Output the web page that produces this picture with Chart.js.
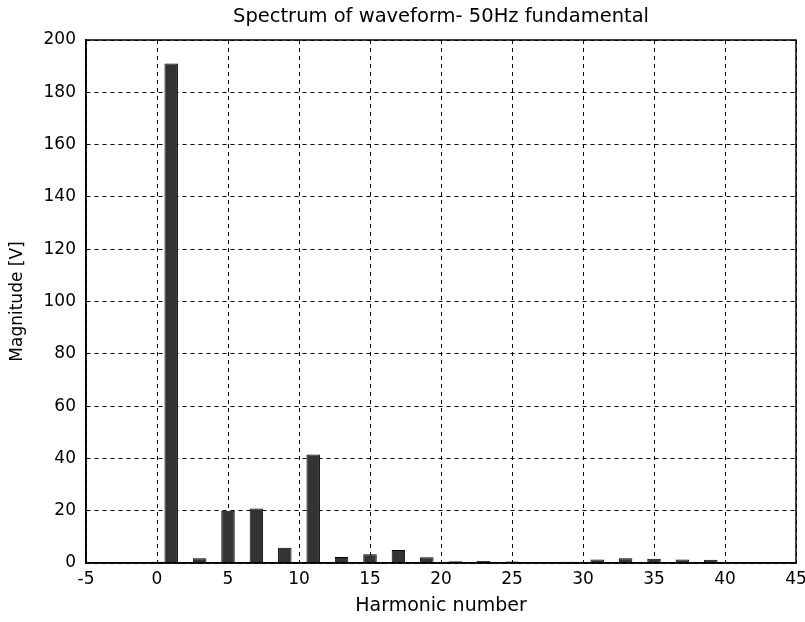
<!DOCTYPE html>
<html>
<head>
<meta charset="utf-8">
<script src="https://cdn.jsdelivr.net/npm/chart.js@4"></script>
<style>
  html, body { margin: 0; padding: 0; background: #fff; }
  #wrap { width: 805px; height: 622px; position: relative; }
</style>
</head>
<body>
<div id="wrap"><canvas id="c"></canvas></div>
<script>
const chartTitle = 'Spectrum of waveform- 50Hz fundamental';
const xTitle = 'Harmonic number';
const yTitle = 'Magnitude [V]';
const harmonics = [0,1,2,3,4,5,6,7,8,9,10,11,12,13,14,15,16,17,18,19,20,21,22,23,24,25,26,27,28,29,30,31,32,33,34,35,36,37,38,39,40];
const magnitudes = [0.5,191,0,1.8,0,20,0,20.8,0,5.8,0,41.5,0,2.3,0,3.3,0,5,0,2.2,0,0.7,0,0.8,0,0.6,0,0.3,0,0.5,0,1.3,0,1.8,0,1.6,0,1.3,0,1.2,0];
const xMin = -5, xMax = 45, xStep = 5;
const yMin = 0, yMax = 200, yStep = 20;

const frame = {
  id: 'frame',
  afterDraw(chart) {
    const {ctx, chartArea: a} = chart;
    ctx.save();
    ctx.strokeStyle = '#000';
    ctx.lineWidth = 1.5;
    ctx.strokeRect(a.left, a.top, a.right - a.left, a.bottom - a.top);
    ctx.restore();
  }
};

const FONT = 'DejaVu Sans';
new Chart(document.getElementById('c'), {
  type: 'bar',
  data: {
    datasets: [{
      data: harmonics.map((h, i) => ({x: h, y: magnitudes[i]})),
      backgroundColor: '#333333',
      borderColor: '#000',
      borderWidth: 1,
      barPercentage: 0.95,
      categoryPercentage: 1.0
    }]
  },
  plugins: [frame],
  options: {
    responsive: true,
    maintainAspectRatio: false,
    animation: false,
    layout: { padding: { left: 0, right: 9, top: 0, bottom: 0 } },
    plugins: {
      legend: { display: false },
      tooltip: { enabled: false },
      title: {
        display: true,
        fullSize: false,
        text: chartTitle,
        color: '#000',
        font: { family: FONT, size: 19.5, weight: 'normal' },
        padding: { top: 5, bottom: 11.6 }
      }
    },
    scales: {
      x: {
        type: 'linear',
        min: xMin, max: xMax,
        offset: false,
        afterFit(s) { s.height = 59; s.paddingLeft = 0; s.paddingRight = 0; },
        ticks: { stepSize: xStep, color: '#000', padding: 6, font: { family: FONT, size: 17 }, maxRotation: 0 },
        grid: { offset: false, color: '#000', lineWidth: 1, drawTicks: false, borderDash: [4,4] },
        border: { display: true, color: '#000', width: 1.5, dash: [4,4] },
        title: { display: true, text: xTitle, color: '#000', font: { family: FONT, size: 19 }, padding: { top: 0, bottom: 4.6 } }
      },
      y: {
        min: yMin, max: yMax,
        afterFit(s) { s.width = 86; },
        ticks: { stepSize: yStep, color: '#000', padding: 10, font: { family: FONT, size: 17 } },
        grid: { color: '#000', lineWidth: 1, drawTicks: false },
        border: { display: true, color: '#000', width: 1.5, dash: [4,4] },
        title: { display: true, text: yTitle, color: '#000', font: { family: FONT, size: 17 }, padding: { top: 7, bottom: 0 } }
      }
    }
  }
});
</script>
</body>
</html>
